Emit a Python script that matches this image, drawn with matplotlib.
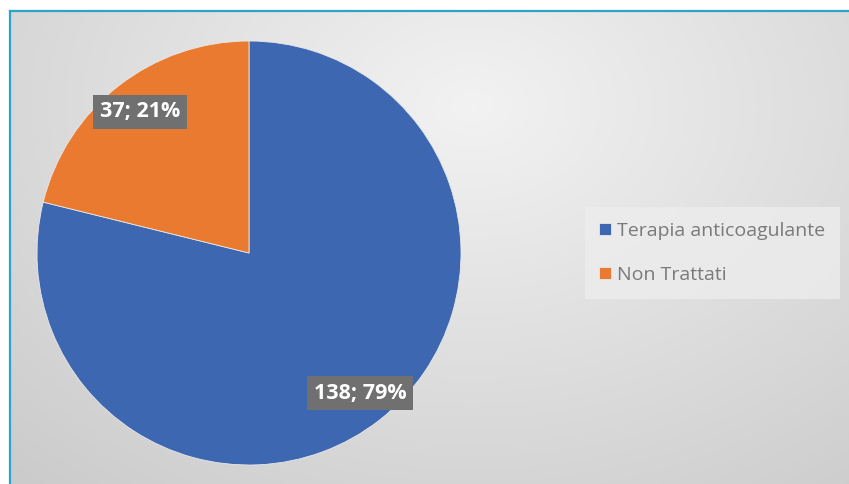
import numpy as np
import matplotlib
matplotlib.use("Agg")
import matplotlib.pyplot as plt

categories = ["Terapia anticoagulante", "Non Trattati"]
values = [138, 37]
colors = ["#3D68B1", "#EA7A2F"]

W, H = 849, 484
fig = plt.figure(figsize=(W / 100, H / 100), dpi=100)
fig.patch.set_facecolor("white")

# background gradient panel
bg = fig.add_axes([10 / W, 0, 1 - 10 / W, 1 - 11 / H])
bg.set_axis_off()
yy, xx = np.mgrid[0:200, 0:400]
cx, cy = 220, 40
d = np.sqrt(((xx - cx) / 400) ** 2 + ((yy - cy) / 260) ** 2)
val = 0.95 - 0.16 * np.clip(d / 0.85, 0, 1)
img = np.dstack([val, val, val])
bg.imshow(img, extent=[0, 1, 0, 1], aspect="auto", origin="upper", interpolation="bilinear")
bg.set_xlim(0, 1)
bg.set_ylim(0, 1)
fig.add_artist(plt.Line2D([10 / W, 1], [1 - 11 / H, 1 - 11 / H], color="#2AA5C8", lw=1.6))
fig.add_artist(plt.Line2D([10 / W, 10 / W], [0, 1 - 11 / H], color="#2AA5C8", lw=1.6))

# pie
cxp, cyp, r = 249, 253, 212
ax = fig.add_axes([(cxp - r) / W, 1 - (cyp + r) / H, 2 * r / W, 2 * r / H])
ax.set_axis_off()
wedges, _ = ax.pie(values, colors=colors, startangle=90, counterclock=False,
                   radius=1, wedgeprops=dict(linewidth=0.6, edgecolor="#e8e8e8"))
ax.set_xlim(-1, 1)
ax.set_ylim(-1, 1)
ax.set_aspect("auto")

total = sum(values)
label_pos = [((360 - cxp) / r, -(393 - cyp) / r), ((140 - cxp) / r, -(112 - cyp) / r)]
for v, (lx, ly) in zip(values, label_pos):
    ax.text(lx, ly, f"{v}; {round(100 * v / total)}%", ha="center", va="center",
            color="white", fontsize=15.5, fontweight="bold", family="Open Sans",
            bbox=dict(boxstyle="square,pad=0.3", facecolor="#707070", edgecolor="none"))

# legend
leg = fig.legend(wedges, categories, loc="center left",
                 bbox_to_anchor=(581 / W, 1 - 253 / H),
                 frameon=True, handlelength=0.6, handleheight=0.6,
                 handletextpad=0.3, labelspacing=1.35, borderpad=0.45,
                 prop=dict(family="Open Sans", size=14))
leg.get_frame().set_facecolor("#EDEDED")
leg.get_frame().set_edgecolor("none")
leg.get_frame().set_alpha(0.8)
leg.get_frame().set_boxstyle("square")
for t in leg.get_texts():
    t.set_color("#7A7A7A")

fig.savefig("out.png", dpi=100)
